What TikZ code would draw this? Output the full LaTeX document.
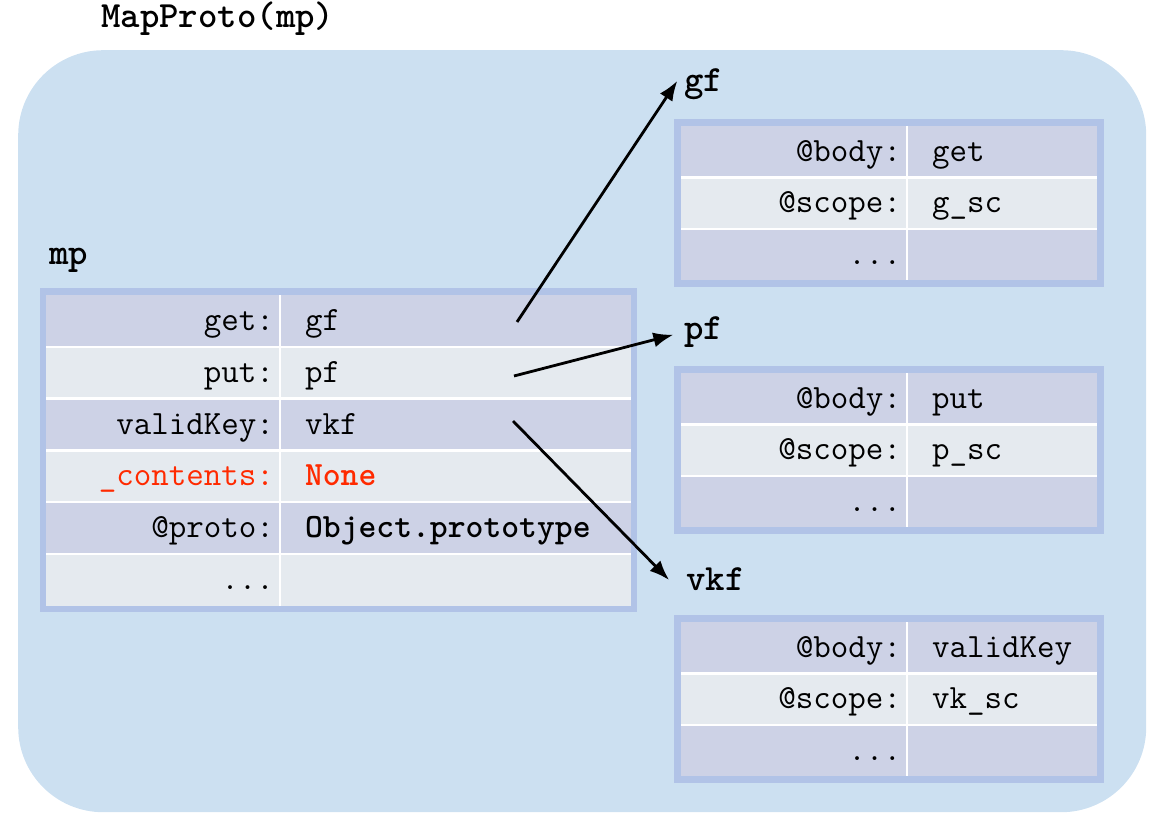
\documentclass[tikz,border=0pt]{standalone}
\usepackage{tikz}
\usetikzlibrary{arrows.meta,positioning}
\definecolor{envblue}{HTML}{CCE0F1}
\definecolor{rimblue}{HTML}{B1C3E7}
\definecolor{rowdark}{HTML}{CDD2E6}
\definecolor{rowlight}{HTML}{E5EAEF}
\definecolor{hotred}{HTML}{FF2A00}
\tikzset{
    %Define pointer arrow
    ptr/.style={
           -{Latex[length=20pt,width=15pt]},
           line width=2.8pt,
           shorten >=11pt},
    %Define rim round each object table
    rim/.style={
           rectangle,
           fill=rimblue,
           inner sep=0pt,
           outer sep=0pt,
           anchor=north west},
    % Define table cells
    cell/.style={
           rectangle,
           inner sep=0pt,
           outer sep=0pt,
           inner xsep=6pt,
           text height=26pt,
           text depth=7pt},
    mpkey/.style={cell, text width=222pt, minimum height=51.8pt, align=right},
    mpval/.style={cell, text width=339pt, minimum height=51.8pt, align=left,
           execute at begin node=\hspace*{19pt}},
    fnkey/.style={cell, text width=214pt, minimum height=51.4pt, align=right},
    fnval/.style={cell, text width=178pt, minimum height=51.4pt, align=left,
           execute at begin node=\hspace*{19pt}},
    dark/.style={fill=rowdark},
    light/.style={fill=rowlight},
    % white rules between cells
    sep/.style={white, line width=2.5pt},
    objname/.style={
           font=\ttfamily\bfseries\fontsize{37}{42}\selectfont,
           inner sep=0pt,
           text height=21pt,
           text depth=7pt,
           anchor=base west}
}
\begin{document}
\begin{tikzpicture}[x=1pt, y=-1pt, font=\ttfamily\fontsize{34}{40}\selectfont]
    \useasboundingbox (0,0) rectangle (1158,813);
    \node [rectangle, fill=envblue, rounded corners=85pt, minimum width=1128pt,
        minimum height=762pt, anchor=north west] (mpenv) at (18,50) {};
    \node [objname] (maptitle) at (101,28) {MapProto(mp)};

    % the mp object
    \node [objname] (mplabel) at (49,264) {mp};
    \node [rim, minimum width=597pt, minimum height=324pt] (mprim) at (40,288) {};
    \node [mpkey, dark, anchor=north west] (mpget) at (46,295) {get:};
    \node [mpval, dark, right=0pt of mpget] (mpgetv) {gf};
    \node [mpkey, light, below=0pt of mpget] (mpput) {put:};
    \node [mpval, light, right=0pt of mpput] (mpputv) {pf};
    \node [mpkey, dark, below=0pt of mpput] (mpvalid) {validKey:};
    \node [mpval, dark, right=0pt of mpvalid] (mpvalidv) {vkf};
    \node [mpkey, light, text=hotred, below=0pt of mpvalid] (mpcont) {\_contents:};
    \node [mpval, light, text=hotred, right=0pt of mpcont] (mpcontv) {\bfseries None};
    \node [mpkey, dark, below=0pt of mpcont] (mpproto) {@proto:};
    \node [mpval, dark, right=0pt of mpproto] (mpprotov) {\bfseries Object.prototype};
    \node [mpkey, light, below=0pt of mpproto] (mpmore) {...};
    \node [mpval, light, right=0pt of mpmore] (mpmorev) {};
    \draw [sep] (mpget.south west) -- (mpgetv.south east);
    \draw [sep] (mpput.south west) -- (mpputv.south east);
    \draw [sep] (mpvalid.south west) -- (mpvalidv.south east);
    \draw [sep] (mpcont.south west) -- (mpcontv.south east);
    \draw [sep] (mpproto.south west) -- (mpprotov.south east);
    \draw [sep] (mpgetv.north west) -- (mpmorev.south west);

    % function object gf
    \node [objname] (gf) at (684,92) {gf};
    \node [rim, minimum width=430pt, minimum height=168pt] (gfrim) at (674,119) {};
    \node [fnkey, dark, anchor=north west] (gfbody) at (681,126) {@body:};
    \node [fnval, dark, right=0pt of gfbody] (gfbodyv) {get};
    \node [fnkey, light, below=0pt of gfbody] (gfscope) {@scope:};
    \node [fnval, light, right=0pt of gfscope] (gfscopev) {g\_sc};
    \node [fnkey, dark, below=0pt of gfscope] (gfmore) {...};
    \node [fnval, dark, right=0pt of gfmore] (gfmorev) {};
    \draw [sep] (gfbody.south west) -- (gfbodyv.south east);
    \draw [sep] (gfscope.south west) -- (gfscopev.south east);
    \draw [sep] (gfbodyv.north west) -- (gfmorev.south west);

    % function object pf
    \node [objname] (pf) at (684,339) {pf};
    \node [rim, minimum width=430pt, minimum height=168pt] (pfrim) at (674,366) {};
    \node [fnkey, dark, anchor=north west] (pfbody) at (681,373) {@body:};
    \node [fnval, dark, right=0pt of pfbody] (pfbodyv) {put};
    \node [fnkey, light, below=0pt of pfbody] (pfscope) {@scope:};
    \node [fnval, light, right=0pt of pfscope] (pfscopev) {p\_sc};
    \node [fnkey, dark, below=0pt of pfscope] (pfmore) {...};
    \node [fnval, dark, right=0pt of pfmore] (pfmorev) {};
    \draw [sep] (pfbody.south west) -- (pfbodyv.south east);
    \draw [sep] (pfscope.south west) -- (pfscopev.south east);
    \draw [sep] (pfbodyv.north west) -- (pfmorev.south west);

    % function object vkf
    \node [objname] (vkf) at (686,590) {vkf};
    \node [rim, minimum width=430pt, minimum height=168pt] (vkfrim) at (674,615) {};
    \node [fnkey, dark, anchor=north west] (vkfbody) at (681,622) {@body:};
    \node [fnval, dark, right=0pt of vkfbody] (vkfbodyv) {validKey};
    \node [fnkey, light, below=0pt of vkfbody] (vkfscope) {@scope:};
    \node [fnval, light, right=0pt of vkfscope] (vkfscopev) {vk\_sc};
    \node [fnkey, dark, below=0pt of vkfscope] (vkfmore) {...};
    \node [fnval, dark, right=0pt of vkfmore] (vkfmorev) {};
    \draw [sep] (vkfbody.south west) -- (vkfbodyv.south east);
    \draw [sep] (vkfscope.south west) -- (vkfscopev.south east);
    \draw [sep] (vkfbodyv.north west) -- (vkfmorev.south west);

    % pointers from the slots
    \coordinate (getptr) at (517,322);
    \coordinate (putptr) at (514,376);
    \coordinate (vkptr) at (513,421);
    \draw [ptr, shorten >=12pt] (getptr) -- (gf.north west);
    \draw [ptr] (putptr) -- (pf.west);
    \draw [ptr, shorten >=24pt] (vkptr) -- (vkf.south west);
\end{tikzpicture}
\end{document}
